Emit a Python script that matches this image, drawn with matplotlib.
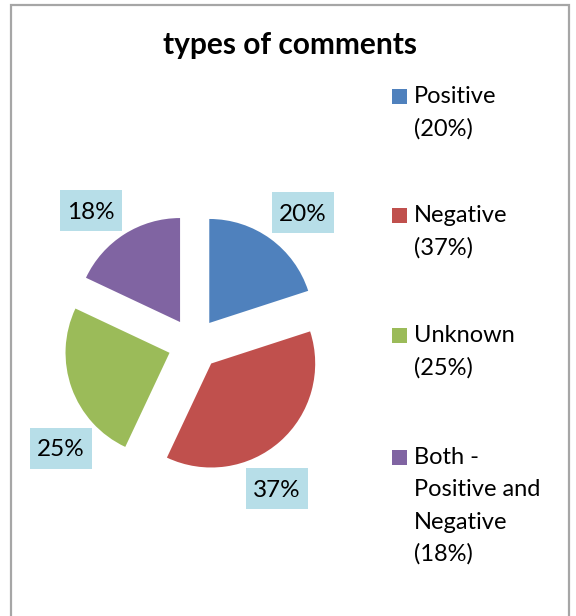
import textwrap
import matplotlib
matplotlib.use("Agg")
import matplotlib.pyplot as plt
import matplotlib.transforms as mtransforms
from matplotlib.patches import Rectangle

# Data
categories = ["Positive", "Negative", "Unknown", "Both - Positive and Negative"]
values = [20, 37, 25, 18]
colors = ["#4F81BD", "#C0504D", "#9BBB59", "#8064A2"]
title = "types of comments"

W, H = 576, 616
DPI = 100
plt.rcParams["font.family"] = ["Lato", "DejaVu Sans"]

fig = plt.figure(figsize=(W / DPI, H / DPI), dpi=DPI)


def fx(px):
    return px / W


def fy(py):
    # pixel measured from the top edge -> figure fraction from the bottom
    return 1 - py / H


# Outer chart border (open at the bottom edge)
fig.patches.append(Rectangle((fx(11), fy(H + 10)), fx(558), (H + 10 - 5) / H,
                             transform=fig.transFigure, fill=False,
                             edgecolor="#A6A6A6", linewidth=1.6))

# Pie axes: centre at (194, 344) px, radius 104 px, data range +-1.6
R = 104.0
cx, cy = 194.0, 344.0
half = 1.6 * R
ax = fig.add_axes([fx(cx - half), fy(cy + half), 2 * half / W, 2 * half / H])
wedges, _ = ax.pie(values, colors=colors, startangle=90, counterclock=False,
                   explode=[0.25] * len(values), radius=1.0,
                   wedgeprops=dict(linewidth=0))
ax.set_xlim(-1.6, 1.6)
ax.set_ylim(-1.6, 1.6)
ax.set_aspect("equal")
ax.axis("off")

# Data labels in fixed-size light-blue boxes (0.62 x 0.41 in)
label_pos = [(1.048, 1.26), (0.798, -1.385), (-1.279, -1.0), (-0.99, 1.288)]
box_w, box_h = 0.62, 0.41
for v, (lx, ly) in zip(values, label_pos):
    anchor = fig.dpi_scale_trans + mtransforms.ScaledTranslation(lx, ly, ax.transData)
    ax.add_patch(Rectangle((-box_w / 2, -box_h / 2), box_w, box_h,
                           transform=anchor, facecolor="#B7DEE8",
                           edgecolor="none", clip_on=False, zorder=3))
    ax.text(lx, ly, f"{v}%", ha="center", va="center_baseline", fontsize=17.5,
            color="black", zorder=4)

# Title
fig.text(fx(290), fy(54), title, ha="center", va="baseline",
         fontsize=21.5, fontweight="bold")

# Legend: colour square plus wrapped label lines
first_baselines = [103, 222.5, 342, 464]
line_step = 32.3
for cat, v, col, base in zip(categories, values, colors, first_baselines):
    lines = textwrap.wrap(f"{cat} ({v}%)", 12)
    fig.patches.append(Rectangle((fx(392), fy(base + 0.5)), 15 / W, 15 / H,
                                 transform=fig.transFigure, facecolor=col,
                                 edgecolor="none"))
    for i, line in enumerate(lines):
        fig.text(fx(414), fy(base + i * line_step), line, ha="left",
                 va="baseline", fontsize=17)

fig.savefig("out.png", dpi=DPI)
